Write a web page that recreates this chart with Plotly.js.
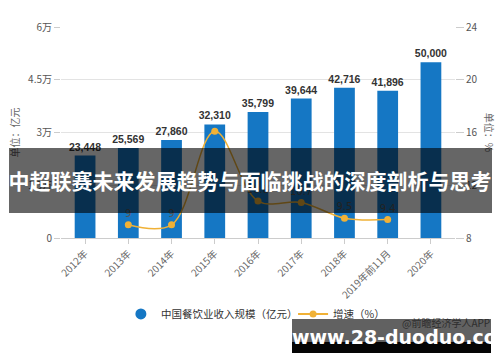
<!DOCTYPE html>
<html><head><meta charset="utf-8">
<script src="https://cdn.plot.ly/plotly-3.0.1.min.js"></script>
<style>
html,body{margin:0;padding:0;background:#fff;}
#wrap{position:relative;width:500px;height:362px;overflow:hidden;}
#chart{position:absolute;left:0;top:0;width:500px;height:362px;}
#banner{position:absolute;left:9px;top:148px;width:483px;height:65px;background:rgba(0,0,0,0.6);}
#btext{position:absolute;left:0;top:148px;width:500px;height:65px;line-height:65px;text-align:center;color:#fff;font-family:"Noto Sans CJK SC",sans-serif;font-weight:bold;font-size:21px;white-space:nowrap;}
#wm1{position:absolute;left:292px;top:319px;width:199px;height:23px;background:rgba(0,0,0,0.62);}
#wm2{position:absolute;left:292px;top:342px;width:199px;height:11px;background:#050505;}
#wmt{position:absolute;left:292px;top:319px;width:199px;height:34px;line-height:36px;text-align:center;color:#fff;font-family:"DejaVu Sans",sans-serif;font-weight:bold;font-size:19px;white-space:nowrap;}
</style></head>
<body><div id="wrap"><div id="chart"></div>
<div id="banner"></div><div id="btext">中超联赛未来发展趋势与面临挑战的深度剖析与思考</div>
<div id="wm1"></div><div id="wm2"></div><div id="wmt">www.28-duoduo.com</div>
</div>
<script>
var years = ["2012年","2013年","2014年","2015年","2016年","2017年","2018年","2019年前11月","2020年"];
var revenue = [23448, 25569, 27860, 32310, 35799, 39644, 42716, 41896, 50000];
var revenueLabels = ["23,448","25,569","27,860","32,310","35,799","39,644","42,716","41,896","50,000"];
var growth = [null, 9, 9, 16.1, 10.8, 10.7, 9.5, 9.4, null];
var growthLabels = ["", "9", "9", "", "10.8", "10.7", "9.5", "9.4", ""];
var leftTickVals = [0, 15000, 30000, 45000, 60000];
var leftTickText = ["0", "1.5万", "3万", "4.5万", "6万"];
var rightTickVals = [8, 12, 16, 20, 24];

var cjk = '"Noto Sans CJK SC", sans-serif';
var blue = '#1577C4', gold = '#F0B136';

var traces = [
  {type:'bar', x:years, y:revenue, marker:{color:blue}, text:revenueLabels, textposition:'outside',
   constraintext:'none',
   textfont:{family:'"Liberation Sans", Arial, sans-serif', size:10.5, color:'#333', weight:'bold'}, cliponaxis:false,
   showlegend:false, hoverinfo:'none'},
  {type:'scatter', mode:'lines+markers+text', x:years, y:growth, yaxis:'y2', connectgaps:false,
   line:{color:gold, width:1.5, shape:'spline', smoothing:1}, marker:{color:gold, size:7},
   text:growthLabels, textposition:'top center', textfont:{family:'"DejaVu Sans", sans-serif', size:10, color:'#555'},
   showlegend:false, cliponaxis:false, hoverinfo:'none'},
  {type:'scatter', mode:'markers', x:[null], y:[null], name:'中国餐饮业收入规模（亿元）',
   marker:{color:blue, size:11, symbol:'circle'}, legend:'legend'},
  {type:'scatter', mode:'lines+markers', x:[null], y:[null], yaxis:'y2', name:'增速（%）',
   line:{color:gold, width:2}, marker:{color:gold, size:7}, legend:'legend2'}
];

var layout = {
  width:500, height:362, margin:{l:61, r:45, t:27, b:124},
  paper_bgcolor:'#fff', plot_bgcolor:'#fff', bargap:0.52,
  font:{family:cjk, size:10, color:'#555'},
  xaxis:{type:'category', tickangle:-45, ticks:'outside', ticklen:5, tickcolor:'#ccc',
         showline:true, linecolor:'#ccc', tickfont:{family:cjk, size:10, color:'#666'}, fixedrange:true},
  yaxis:{range:[0,60000], tickvals:leftTickVals, ticktext:leftTickText, showgrid:true, gridcolor:'#e3e3e3',
         ticks:'outside', ticklen:6, tickcolor:'#ccc', zeroline:false, tickfont:{family:cjk, size:10, color:'#555'}},
  yaxis2:{overlaying:'y', side:'right', range:[8,24], tickvals:rightTickVals, showgrid:false,
          ticks:'outside', ticklen:8, tickcolor:'#ccc', zeroline:false, tickfont:{family:cjk, size:10, color:'#555'}},
  legend:{orientation:'h', x:0.152, xanchor:'left', y:-0.36, yanchor:'middle', bgcolor:'rgba(0,0,0,0)',
          font:{family:cjk, size:10.5, color:'#333'}, itemwidth:30},
  legend2:{orientation:'h', x:0.589, xanchor:'left', y:-0.36, yanchor:'middle', bgcolor:'rgba(0,0,0,0)',
          font:{family:cjk, size:10.5, color:'#333'}, itemwidth:30},
  annotations:[
    {xref:'paper', yref:'paper', x:-0.119, xanchor:'center', y:0.5, text:'单位：亿元', textangle:-90, showarrow:false,
     font:{family:cjk, size:10, color:'#666'}},
    {xref:'paper', yref:'paper', x:1.088, xanchor:'center', y:0.5, text:'单位：%', textangle:90, showarrow:false,
     font:{family:cjk, size:10, color:'#666'}},
    {xref:'paper', yref:'paper', x:1.095, y:-0.445, xanchor:'right', text:'@前瞻经济学人APP', showarrow:false,
     font:{family:cjk, size:10, color:'#777'}}
  ]
};
Plotly.newPlot('chart', traces, layout, {displayModeBar:false, staticPlot:true});
</script></body></html>
